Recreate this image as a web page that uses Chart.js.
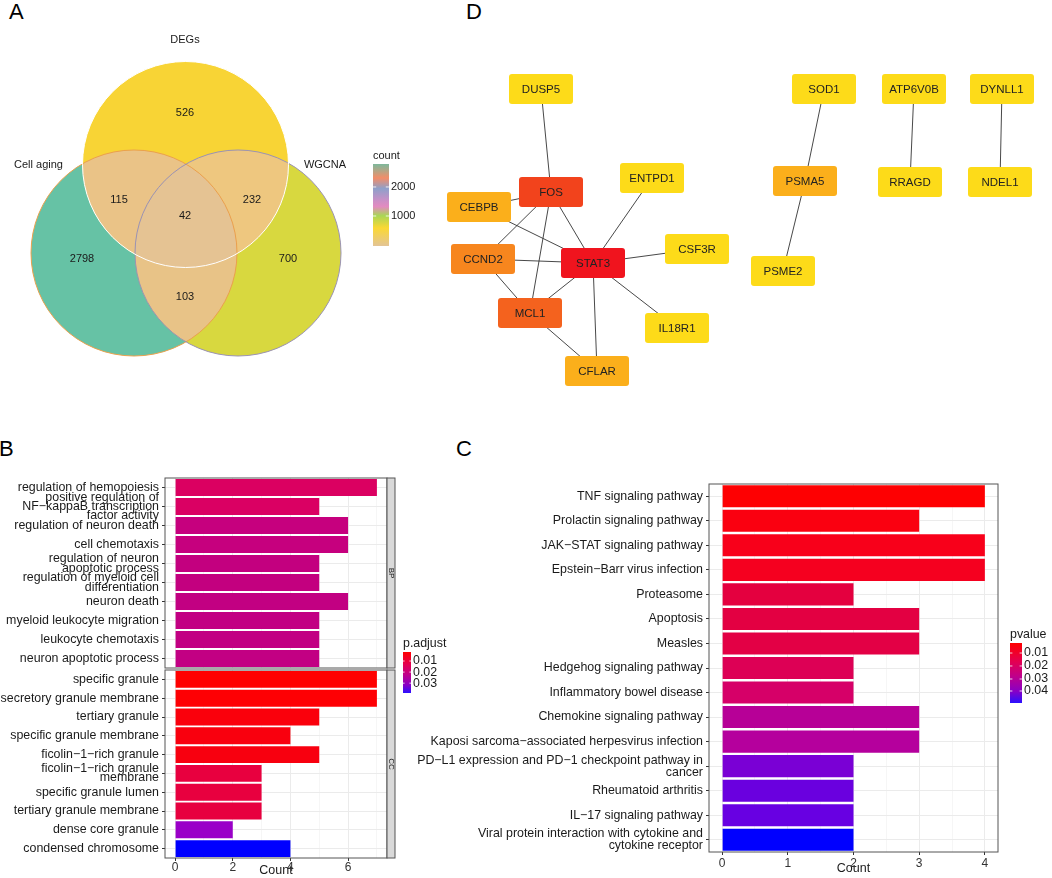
<!DOCTYPE html>
<html>
<head>
<meta charset="utf-8">
<script src="https://cdn.jsdelivr.net/npm/chart.js@4/dist/chart.umd.min.js"></script>
<style>
    body { margin: 0; background: #fff; width: 1052px; height: 878px; position: relative; overflow: hidden;
           font-family: "Liberation Sans", Arial, Helvetica, sans-serif; }
    canvas { position: absolute; left: 0; top: 0; }
    .tag { position: absolute; font-size: 22px; line-height: 22px; color: #000; }
</style>
</head>
<body>
<div class="tag" style="left:9px;top:1px">A</div>
<div class="tag" style="left:466px;top:1px">D</div>
<div class="tag" style="left:-1px;top:438px">B</div>
<div class="tag" style="left:456px;top:438px">C</div>
<canvas id="vennChart" width="1052" height="878"></canvas>
<canvas id="networkChart" width="1052" height="878"></canvas>
<canvas id="bpChart" width="1052" height="878"></canvas>
<canvas id="ccChart" width="1052" height="878"></canvas>
<canvas id="keggChart" width="1052" height="878"></canvas>
<script>
// ---- A: venn
const vennSets = ['DEGs', 'Cell aging', 'WGCNA'];
const vennRegions = ['DEGs', 'Cell aging', 'WGCNA', 'DEGs+Cell aging', 'DEGs+WGCNA', 'Cell aging+WGCNA', 'all'];
const vennCounts = [526, 2798, 700, 115, 232, 103, 42];
const countTicks = [2000, 1000];

// ---- D: network
const nodeNames = ['DUSP5', 'FOS', 'CEBPB', 'ENTPD1', 'CCND2', 'STAT3', 'CSF3R', 'MCL1', 'IL18R1', 'CFLAR',
                   'SOD1', 'PSMA5', 'PSME2', 'ATP6V0B', 'RRAGD', 'DYNLL1', 'NDEL1'];
const nodeX = [541, 551, 479, 652, 483, 593, 697, 530, 677, 597, 824, 805, 783, 914, 910, 1002, 1000];
const nodeY = [89, 192, 207, 178, 259, 263, 249, 313, 328, 371, 89, 181, 271, 89, 182, 89, 182];
const edgeFrom = ['DUSP5', 'FOS', 'FOS', 'FOS', 'FOS', 'CEBPB', 'CCND2', 'CCND2', 'MCL1', 'MCL1', 'STAT3', 'STAT3', 'STAT3', 'STAT3',
                  'SOD1', 'PSMA5', 'ATP6V0B', 'DYNLL1'];
const edgeTo = ['FOS', 'CEBPB', 'CCND2', 'MCL1', 'STAT3', 'STAT3', 'STAT3', 'MCL1', 'STAT3', 'CFLAR', 'CFLAR', 'ENTPD1', 'CSF3R', 'IL18R1',
                'PSMA5', 'PSME2', 'RRAGD', 'NDEL1'];

// ---- B: GO
const bpTerms = [
    'regulation of hemopoiesis',
    ['positive regulation of', 'NF\u2212kappaB transcription', 'factor activity'],
    'regulation of neuron death',
    'cell chemotaxis',
    ['regulation of neuron', 'apoptotic process'],
    ['regulation of myeloid cell', 'differentiation'],
    'neuron death',
    'myeloid leukocyte migration',
    'leukocyte chemotaxis',
    'neuron apoptotic process'
];
const bpCounts = [7, 5, 6, 6, 5, 5, 6, 5, 5, 5];
const ccTerms = [
    'specific granule',
    'secretory granule membrane',
    'tertiary granule',
    'specific granule membrane',
    'ficolin\u22121\u2212rich granule',
    ['ficolin\u22121\u2212rich granule', 'membrane'],
    'specific granule lumen',
    'tertiary granule membrane',
    'dense core granule',
    'condensed chromosome'
];
const ccCounts = [7, 7, 5, 4, 5, 3, 3, 3, 2, 4];
const goTicks = [0, 1, 2, 3, 4, 5, 6, 7];
const padjTicks = ['0.01', '0.02', '0.03'];

// ---- C: KEGG
const keggTerms = [
    'TNF signaling pathway',
    'Prolactin signaling pathway',
    'JAK\u2212STAT signaling pathway',
    'Epstein\u2212Barr virus infection',
    'Proteasome',
    'Apoptosis',
    'Measles',
    'Hedgehog signaling pathway',
    'Inflammatory bowel disease',
    'Chemokine signaling pathway',
    'Kaposi sarcoma\u2212associated herpesvirus infection',
    ['PD\u2212L1 expression and PD\u22121 checkpoint pathway in', 'cancer'],
    'Rheumatoid arthritis',
    'IL\u221217 signaling pathway',
    ['Viral protein interaction with cytokine and', 'cytokine receptor']
];
const keggCounts = [4, 3, 4, 4, 2, 3, 3, 2, 2, 3, 3, 2, 2, 2, 2];
const keggTicks = [0, 0.5, 1, 1.5, 2, 2.5, 3, 3.5, 4];
const pvalueTicks = ['0.01', '0.02', '0.03', '0.04'];

// colours
const vennColors = ['#F8D435', '#66C2A5', '#D8D83F', '#EAC387', '#EEC77F', '#E8C387', '#E5C393'];
const bpColors = ['#DB0061', '#DA0063', '#C6007E', '#C6007E', '#C3007F', '#C3007F', '#C20082', '#C20083', '#C20083', '#C20083'];
const ccColors = ['#FF0000', '#FE0004', '#FA000C', '#F9000E', '#F8000F', '#E8003F', '#E8003F', '#E7003F', '#9A00C8', '#0000FF'];
const keggColors = ['#FE0002', '#FA0010', '#F8001A', '#F5001F', '#E4003F', '#E30042', '#E30045', '#DD0055', '#D60068',
                    '#B70097', '#B5009D', '#7A00D5', '#6A00DF', '#6800E2', '#0000FF'];
const degreeColors = {1: '#FDDB19', 2: '#FBAF1B', 3: '#F7861E', 4: '#F4621E', 5: '#F2431C', 8: '#F0141E'};
const redBlue = [[0, '#FF0000'], [0.3, '#E4004F'], [0.55, '#C0008A'], [0.8, '#8A00C4'], [1, '#2A10FF']];

const fontFamily = '"Liberation Sans", Arial, Helvetica, sans-serif';
Chart.defaults.font.family = fontFamily;
Chart.defaults.color = '#1a1a1a';
Chart.defaults.animation = false;
Chart.defaults.plugins.legend.display = false;
Chart.defaults.plugins.tooltip.enabled = false;

function pageScales() {
    return {
        x: { type: 'linear', min: 0, max: 1052, display: false },
        y: { type: 'linear', min: 0, max: 878, reverse: true, display: false }
    };
}

function text(ctx, str, x, y, size, align) {
    ctx.font = size + 'px ' + fontFamily;
    ctx.fillStyle = '#1a1a1a';
    ctx.textAlign = align || 'center';
    ctx.textBaseline = 'middle';
    ctx.fillText(str, x, y);
}

// colour bar legend, shared by A, B and C (x, y in canvas pixels)
const gradLegend = {
    id: 'gradLegend',
    afterDraw(chart, args, opts) {
        if (!opts.title) return;
        const ctx = chart.ctx;
        const x = opts.x, y = opts.y;
        const g = ctx.createLinearGradient(0, y, 0, y + opts.h);
        opts.stops.forEach(s => g.addColorStop(s[0], s[1]));
        ctx.save();
        ctx.fillStyle = g;
        ctx.fillRect(x, y, opts.w, opts.h);
        text(ctx, opts.title, x, y - 8, opts.size, 'left');
        opts.labels.forEach((lab, i) => {
            const ty = y + opts.h * opts.fracs[i];
            ctx.strokeStyle = 'rgba(255,255,255,0.8)';
            ctx.lineWidth = 1;
            ctx.beginPath();
            ctx.moveTo(x, ty); ctx.lineTo(x + opts.w * 0.2, ty);
            ctx.moveTo(x + opts.w * 0.8, ty); ctx.lineTo(x + opts.w, ty);
            ctx.stroke();
            text(ctx, lab, x + opts.w + 2, ty, opts.size, 'left');
        });
        ctx.restore();
    }
};

// ---------- A
const vennPlugin = {
    id: 'venn',
    beforeDatasetsDraw(chart) {
        const ctx = chart.ctx;
        const { x, y } = chart.scales;
        const cx = [185.5, 134, 238], cy = [164.5, 253, 253], r = 103;
        const circ = cx.map((v, i) => ({
            x: x.getPixelForValue(v), y: y.getPixelForValue(cy[i]),
            r: x.getPixelForValue(r) - x.getPixelForValue(0)
        }));
        const path = c => { ctx.beginPath(); ctx.arc(c.x, c.y, c.r, 0, Math.PI * 2); };
        const fillIn = (clips, target, color) => {
            ctx.save();
            clips.forEach(i => { path(circ[i]); ctx.clip(); });
            path(circ[target]);
            ctx.fillStyle = color;
            ctx.fill();
            ctx.restore();
        };
        fillIn([], 1, vennColors[1]);
        fillIn([], 2, vennColors[2]);
        fillIn([], 0, vennColors[0]);
        fillIn([0], 1, vennColors[3]);
        fillIn([0], 2, vennColors[4]);
        fillIn([1], 2, vennColors[5]);
        fillIn([0, 1], 2, vennColors[6]);

        ctx.save();
        ctx.lineWidth = 1;
        [[1, '#EBA04C'], [2, '#9A92B4'], [0, '#FFFFFF']].forEach(([i, col]) => {
            path(circ[i]);
            ctx.strokeStyle = col;
            ctx.stroke();
        });
        ctx.restore();

        // region counts
        const lx = [185, 82, 288, 119, 252, 185, 185];
        const ly = [113, 259, 259, 200, 200, 297, 216];
        vennCounts.forEach((n, i) => text(ctx, String(n), x.getPixelForValue(lx[i]), y.getPixelForValue(ly[i]), 11));
        // set names
        const nx = [185, 38.5, 325], ny = [40, 165, 165];
        vennSets.forEach((s, i) => text(ctx, s, x.getPixelForValue(nx[i]), y.getPixelForValue(ny[i]), 11));
    }
};

new Chart(document.getElementById('vennChart'), {
    type: 'scatter',
    data: { datasets: [{ data: [] }] },
    options: {
        responsive: false,
        scales: pageScales(),
        plugins: {
            gradLegend: {
                title: 'count', x: 373, y: 164, w: 16, h: 82, size: 11,
                stops: [[0, '#7DB89B'], [0.08, '#B3A686'], [0.17, '#F38D68'], [0.3, '#8FA0CA'], [0.44, '#C990C7'],
                        [0.52, '#E38BC0'], [0.63, '#A9D656'], [0.78, '#FBD833'], [1, '#E3C496']],
                labels: countTicks.map(String), fracs: [0.28, 0.634]
            }
        }
    },
    plugins: [vennPlugin, gradLegend]
});

// ---------- D
const degree = nodeNames.map(n => edgeFrom.filter(e => e === n).length + edgeTo.filter(e => e === n).length);

const networkPlugin = {
    id: 'network',
    afterDatasetsDraw(chart) {
        const ctx = chart.ctx;
        const meta = chart.getDatasetMeta(chart.data.datasets.length - 1);
        const w = 64, h = 30;
        meta.data.forEach((pt, i) => {
            ctx.save();
            ctx.fillStyle = degreeColors[degree[i]];
            ctx.beginPath();
            ctx.roundRect(pt.x - w / 2, pt.y - h / 2, w, h, 3);
            ctx.fill();
            ctx.font = '11.5px ' + fontFamily;
            ctx.fillStyle = '#222';
            ctx.textAlign = 'center';
            ctx.textBaseline = 'middle';
            ctx.fillText(nodeNames[i], pt.x, pt.y + 0.5);
            ctx.restore();
        });
    }
};

const nodeAt = name => {
    const i = nodeNames.indexOf(name);
    return { x: nodeX[i], y: nodeY[i] };
};
const edgeSets = edgeFrom.map((a, i) => ({
    type: 'line',
    data: [nodeAt(a), nodeAt(edgeTo[i])],
    borderColor: '#333333',
    borderWidth: 0.9,
    pointRadius: 0,
    fill: false
}));

new Chart(document.getElementById('networkChart'), {
    type: 'scatter',
    data: {
        datasets: edgeSets.concat([{
            type: 'scatter',
            data: nodeNames.map((n, i) => ({ x: nodeX[i], y: nodeY[i] })),
            pointRadius: 0
        }])
    },
    options: { responsive: false, scales: pageScales() },
    plugins: [networkPlugin]
});

// ---------- bar panels
const panelFrame = {
    id: 'panelFrame',
    afterDatasetsDraw(chart, args, opts) {
        const ctx = chart.ctx;
        const a = chart.chartArea;
        ctx.save();
        ctx.strokeStyle = '#555';
        ctx.lineWidth = 1;
        ctx.strokeRect(a.left, a.top, a.right - a.left, a.bottom - a.top);
        if (opts.strip) {
            ctx.fillStyle = '#D9D9D9';
            ctx.fillRect(a.right, a.top, 8, a.bottom - a.top);
            ctx.strokeRect(a.right, a.top, 8, a.bottom - a.top);
            ctx.translate(a.right + 4, (a.top + a.bottom) / 2);
            ctx.rotate(Math.PI / 2);
            text(ctx, opts.strip, 0, 0, 8);
        }
        ctx.restore();
    }
};

function barConfig(terms, counts, colors, o) {
    const isMajor = v => o.major.includes(v);
    return {
        type: 'bar',
        data: {
            labels: terms,
            datasets: [{
                data: counts,
                backgroundColor: colors,
                borderWidth: 0,
                barPercentage: 0.9,
                categoryPercentage: 1
            }]
        },
        options: {
            responsive: false,
            indexAxis: 'y',
            layout: { padding: o.padding },
            scales: {
                x: {
                    type: 'linear', min: o.min, max: o.max,
                    afterBuildTicks: s => { s.ticks = o.ticks.map(v => ({ value: v })); },
                    afterFit: s => { s.height = o.axisH; },
                    ticks: {
                        display: o.showX, autoSkip: false, maxRotation: 0, padding: o.tickPad,
                        font: { size: 12 }, color: '#333',
                        callback: v => isMajor(v) ? String(v) : ''
                    },
                    grid: {
                        drawTicks: o.showX, tickLength: 3,
                        color: c => (c.tick && isMajor(c.tick.value)) ? '#EBEBEB' : '#F6F6F6',
                        tickColor: c => (c.tick && isMajor(c.tick.value)) ? '#333' : 'rgba(0,0,0,0)'
                    },
                    border: { display: false },
                    title: {
                        display: o.showX, text: 'Count', font: { size: 12.5 }, color: '#1a1a1a',
                        padding: { top: 0, bottom: o.titlePad }
                    }
                },
                y: {
                    type: 'category', offset: true,
                    afterFit: s => { s.width = o.axisW; },
                    grid: { offset: false, color: '#EBEBEB', tickLength: 3, tickColor: '#333' },
                    border: { display: false },
                    ticks: {
                        autoSkip: false, padding: 3, crossAlign: 'near', color: '#1a1a1a',
                        font: { size: 12.4, lineHeight: o.lineHeight }
                    }
                }
            },
            plugins: { panelFrame: { strip: o.strip }, gradLegend: o.legend || {} }
        },
        plugins: [panelFrame, gradLegend]
    };
}

new Chart(document.getElementById('bpChart'), barConfig(bpTerms, bpCounts, bpColors, {
    min: -0.35, max: 7.35, ticks: goTicks, major: [0, 2, 4, 6],
    padding: { left: 0, top: 478, right: 665, bottom: 210 },
    axisW: 165, axisH: 0, showX: false, tickPad: 0, titlePad: 0, lineHeight: 0.75, strip: 'BP',
    legend: {
        title: 'p.adjust', x: 403, y: 652, w: 8, h: 41, size: 12.4, stops: redBlue,
        labels: padjTicks, fracs: [0.22, 0.49, 0.76]
    }
}));

new Chart(document.getElementById('ccChart'), barConfig(ccTerms, ccCounts, ccColors, {
    min: -0.35, max: 7.35, ticks: goTicks, major: [0, 2, 4, 6],
    padding: { left: 0, top: 670, right: 665, bottom: 0 },
    axisW: 165, axisH: 20, showX: true, tickPad: -1, titlePad: 0, lineHeight: 0.75, strip: 'CC'
}));

new Chart(document.getElementById('keggChart'), barConfig(keggTerms, keggCounts, keggColors, {
    min: -0.2, max: 4.2, ticks: keggTicks, major: [0, 1, 2, 3, 4],
    padding: { left: 409, top: 484, right: 54, bottom: 0 },
    axisW: 300, axisH: 26, showX: true, tickPad: 1, titlePad: 2, lineHeight: 0.97,
    legend: {
        title: 'pvalue', x: 1010, y: 643, w: 12, h: 60, size: 12.4, stops: redBlue,
        labels: pvalueTicks, fracs: [0.167, 0.383, 0.6, 0.8]
    }
}));
</script>
</body>
</html>
